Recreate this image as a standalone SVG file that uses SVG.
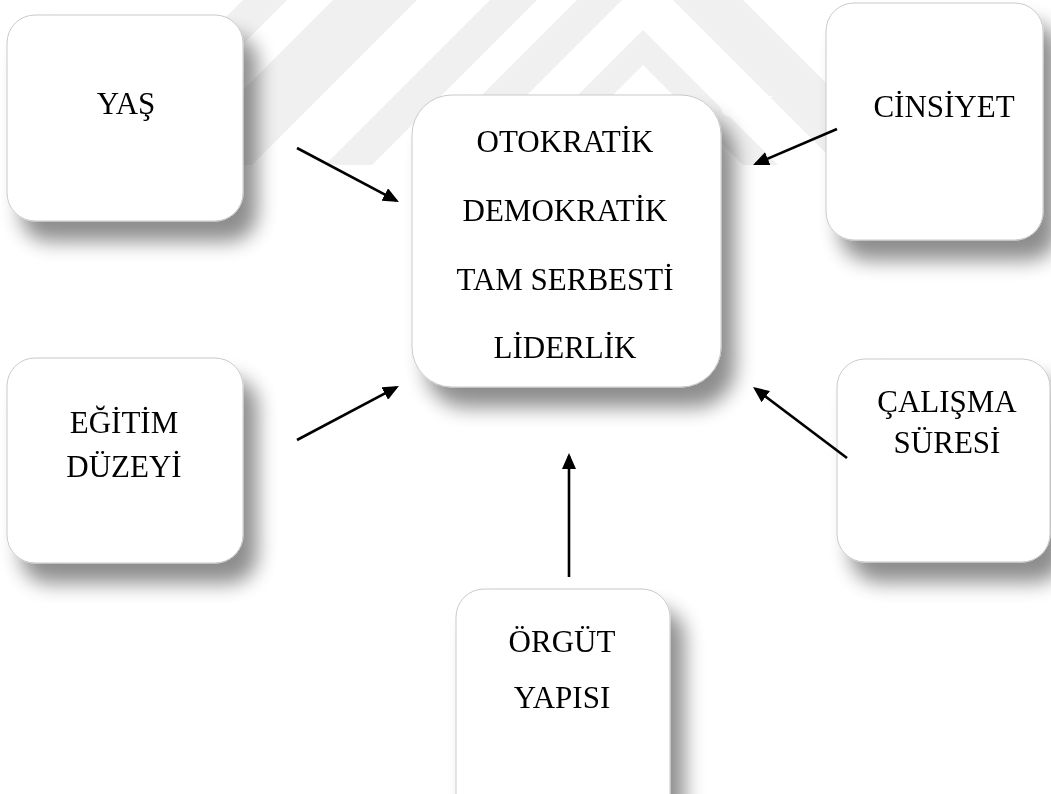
<svg xmlns="http://www.w3.org/2000/svg" width="1051" height="794" viewBox="0 0 1051 794">
<style>
.box{fill:#ffffff;stroke:#c9c9c9;stroke-width:1}
.t{font-family:"Liberation Serif","Times New Roman",serif;font-size:31px;fill:#000;text-anchor:middle}
.wm{fill:#f0f0f0}
.ar{stroke:#000;stroke-width:2.6;fill:none;marker-end:url(#ah)}
</style>
<defs>
<filter id="sh" x="-20%" y="-20%" width="150%" height="150%">
<feGaussianBlur in="SourceAlpha" stdDeviation="10"/>
<feOffset dx="14" dy="20" result="o"/>
<feComponentTransfer><feFuncA type="linear" slope="0.45"/></feComponentTransfer>
<feMerge><feMergeNode/><feMergeNode in="SourceGraphic"/></feMerge>
</filter>
<marker id="ah" viewBox="0 0 16 14" markerUnits="userSpaceOnUse" markerWidth="16" markerHeight="14" refX="13" refY="7" orient="auto">
<path d="M0,0 L16,7 L0,14 z" fill="#000"/>
</marker>
</defs>
<rect width="1051" height="794" fill="#ffffff"/>
<g id="watermark">
<polygon class="wm" points="243,0 287,0 122,165 78,165"/>
<polygon class="wm" points="333,0 417,0 252,165 168,165"/>
<polygon class="wm" points="490,0 537,0 372,165 325,165"/>
<polygon class="wm" points="577,0 622,0 457,165 412,165"/>
<polygon class="wm" points="673,0 743,0 908,165 838,165"/>
<polygon class="wm" points="643,30 778,165 743,165 643,65 543,165 508,165"/>
<text x="720" y="117" style="font-family:'Liberation Serif','Times New Roman',serif;font-size:31px;fill:#ffffff">CİN</text>
</g>
<g id="node-yas" filter="url(#sh)">
<rect class="box" x="7" y="15" width="236" height="206" rx="28"/>
<text class="t" x="126" y="114">YAŞ</text>
</g>
<g id="node-cinsiyet" filter="url(#sh)">
<rect class="box" x="826" y="3" width="217" height="237" rx="28"/>
<text class="t" x="944" y="117">CİNSİYET</text>
</g>
<g id="node-center" filter="url(#sh)">
<rect class="box" x="412" y="95" width="309" height="292" rx="40"/>
<text class="t" x="565" y="152">OTOKRATİK</text>
<text class="t" x="565" y="221">DEMOKRATİK</text>
<text class="t" x="565" y="290">TAM SERBESTİ</text>
<text class="t" x="565" y="358">LİDERLİK</text>
</g>
<g id="node-egitim" filter="url(#sh)">
<rect class="box" x="7" y="358" width="236" height="205" rx="28"/>
<text class="t" x="124" y="433">EĞİTİM</text>
<text class="t" x="124" y="477">DÜZEYİ</text>
</g>
<g id="node-calisma" filter="url(#sh)">
<rect class="box" x="837" y="359" width="213" height="203" rx="28"/>
<text class="t" x="947" y="412">ÇALIŞMA</text>
<text class="t" x="947" y="453">SÜRESİ</text>
</g>
<g id="node-orgut" filter="url(#sh)">
<rect class="box" x="456" y="589" width="214" height="240" rx="28"/>
<text class="t" x="562" y="652">ÖRGÜT</text>
<text class="t" x="562" y="708">YAPISI</text>
</g>
<g id="connectors">
<line class="ar" x1="297" y1="148" x2="396.3" y2="200.6"/>
<line class="ar" x1="837" y1="129" x2="755.8" y2="163.8"/>
<line class="ar" x1="297" y1="440" x2="396.3" y2="387.4"/>
<line class="ar" x1="847" y1="458" x2="755.4" y2="388.8"/>
<line class="ar" x1="569" y1="577" x2="569" y2="456"/>
</g>
</svg>
